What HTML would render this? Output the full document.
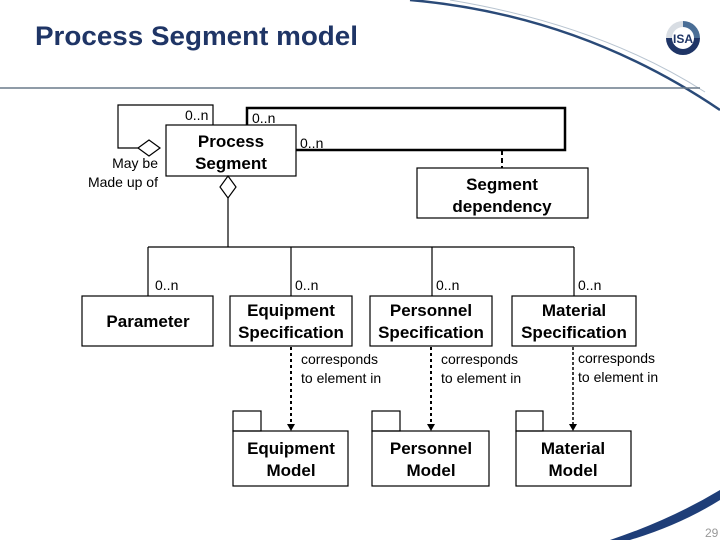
<!DOCTYPE html>
<html><head><meta charset="utf-8"><style>
html,body{margin:0;padding:0;background:#fff;}
svg{display:block;font-family:"Liberation Sans",Arial,sans-serif;}
</style></head><body>
<svg width="720" height="540" viewBox="0 0 720 540" xmlns="http://www.w3.org/2000/svg">
<path d="M410 0 Q580 15 720 110" fill="none" stroke="#2a4a78" stroke-width="2.5"/>
<path d="M450 0 Q600 25 705 92" fill="none" stroke="#b8c4d0" stroke-width="1"/>
<line x1="0" y1="88" x2="700" y2="88" stroke="#6a7a8a" stroke-width="1.5"/>
<text x="35" y="45" font-size="27" font-weight="bold" fill="#1f3566" textLength="323" lengthAdjust="spacingAndGlyphs">Process Segment model</text>
<circle cx="683" cy="38" r="17" fill="#d8dde3"/>
<path d="M683 21 A17 17 0 0 1 700 38 L692 38 A9 9 0 0 0 683 29 Z" fill="#4a6e96"/>
<path d="M666 38 A17 17 0 0 0 700 38 L692 38 A9 9 0 0 1 674 38 Z" fill="#1f3566"/>
<circle cx="683" cy="38" r="11" fill="#fff"/>
<text x="683" y="43" font-size="12" font-weight="bold" text-anchor="middle" fill="#1f3566">ISA</text>
<path d="M610 540 Q670 520 720 490 L720 500 Q680 525 630 540 Z" fill="#1f3e78"/>
<text x="705" y="537" font-size="12" fill="#999">29</text>

<g stroke="#000" stroke-width="1.2" fill="none">
<polyline points="213,125 213,105 118,105 118,148 138,148"/>
<polygon points="138,148 149,140 160,148 149,156" fill="#fff"/>
<rect x="247" y="108" width="318" height="42" stroke-width="2.5"/>
<line x1="502" y1="150" x2="502" y2="168" stroke-width="2" stroke-dasharray="5,3"/>
<rect x="166" y="125" width="130" height="51" fill="#fff"/>
<rect x="417" y="168" width="171" height="50"/>
<polygon points="228,176 236,187 228,198 220,187" fill="#fff"/>
<line x1="228" y1="198" x2="228" y2="247"/>
<line x1="148" y1="247" x2="574" y2="247"/>
<line x1="148" y1="247" x2="148" y2="296"/>
<line x1="291" y1="247" x2="291" y2="296"/>
<line x1="432" y1="247" x2="432" y2="296"/>
<line x1="574" y1="247" x2="574" y2="296"/>
<rect x="82" y="296" width="131" height="50"/>
<rect x="230" y="296" width="122" height="50"/>
<rect x="370" y="296" width="122" height="50"/>
<rect x="512" y="296" width="124" height="50"/>
<line x1="291" y1="347" x2="291" y2="426" stroke-width="2" stroke-dasharray="3,3"/>
<line x1="431" y1="347" x2="431" y2="426" stroke-width="2" stroke-dasharray="3,3"/>
<line x1="573" y1="347" x2="573" y2="426" stroke-width="1.5" stroke-dasharray="3,2"/>
<rect x="233" y="411" width="28" height="20"/>
<rect x="233" y="431" width="115" height="55"/>
<rect x="372" y="411" width="28" height="20"/>
<rect x="372" y="431" width="117" height="55"/>
<rect x="516" y="411" width="27" height="20"/>
<rect x="516" y="431" width="115" height="55"/>
</g>
<g fill="#000">
<polygon points="287,424 295,424 291,431"/>
<polygon points="427,424 435,424 431,431"/>
<polygon points="569,424 577,424 573,431"/>
</g>
<g font-size="14" fill="#000">
<text x="185" y="120">0..n</text>
<text x="252" y="123">0..n</text>
<text x="300" y="148">0..n</text>
<text x="158" y="168" text-anchor="end">May be</text>
<text x="158" y="187" text-anchor="end">Made up of</text>
<text x="155" y="290">0..n</text>
<text x="295" y="290">0..n</text>
<text x="436" y="290">0..n</text>
<text x="578" y="290">0..n</text>
<text x="301" y="364">corresponds</text>
<text x="301" y="383">to element in</text>
<text x="441" y="364">corresponds</text>
<text x="441" y="383">to element in</text>
<text x="578" y="363">corresponds</text>
<text x="578" y="382">to element in</text>
</g>
<g font-size="17" font-weight="bold" text-anchor="middle" fill="#000">
<text x="231" y="147">Process</text>
<text x="231" y="169">Segment</text>
<text x="502" y="190">Segment</text>
<text x="502" y="212">dependency</text>
<text x="148" y="327">Parameter</text>
<text x="291" y="316">Equipment</text>
<text x="291" y="338">Specification</text>
<text x="431" y="316">Personnel</text>
<text x="431" y="338">Specification</text>
<text x="574" y="316">Material</text>
<text x="574" y="338">Specification</text>
<text x="291" y="454">Equipment</text>
<text x="291" y="476">Model</text>
<text x="431" y="454">Personnel</text>
<text x="431" y="476">Model</text>
<text x="573" y="454">Material</text>
<text x="573" y="476">Model</text>
</g>
</svg>
</body></html>
